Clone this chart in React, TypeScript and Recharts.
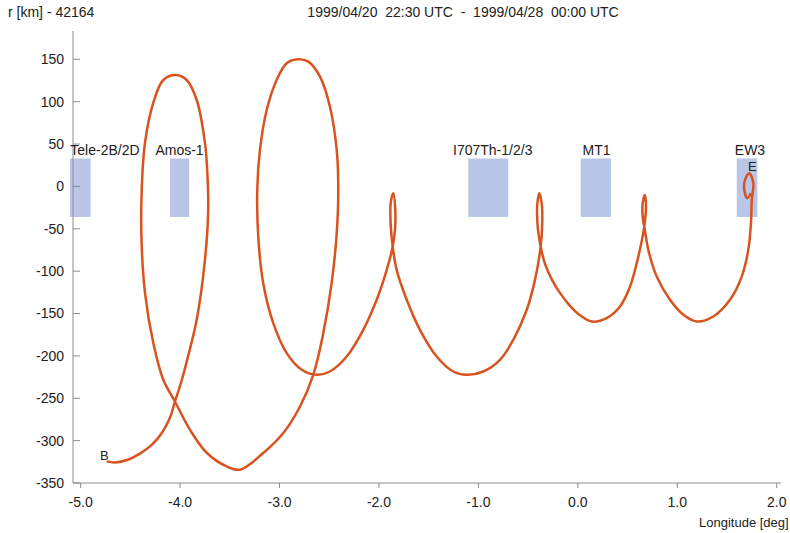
import React from 'react';
import {
  LineChart,
  Line,
  XAxis,
  YAxis,
  ReferenceArea,
  ReferenceDot,
  Label,
} from 'recharts';

// ground track: longitude [deg] vs radius offset r - 42164 [km]
const trackLon = [
  -4.739, -4.655, -4.524, -4.404, -4.283, -4.182, -4.102, -4.052, -3.991, -3.934,
  -3.833, -3.75, -3.717, -3.725, -3.75, -3.833, -3.934, -4.042, -4.169, -4.27,
  -4.353, -4.387, -4.387, -4.353, -4.27, -4.169, -4.052, -3.901, -3.733, -3.532,
  -3.398, -3.164, -2.962, -2.794, -2.661, -2.56, -2.476, -2.425, -2.409, -2.425,
  -2.493, -2.593, -2.711, -2.812, -2.928, -3.029, -3.129, -3.197, -3.224, -3.214,
  -3.164, -3.063, -2.928, -2.777, -2.627, -2.493, -2.325, -2.158, -2.023, -1.922,
  -1.862, -1.839, -1.836, -1.856, -1.882, -1.882, -1.862, -1.822, -1.721, -1.588,
  -1.42, -1.253, -1.118, -0.951, -0.783, -0.649, -0.514, -0.431, -0.374, -0.358,
  -0.364, -0.388, -0.408, -0.404, -0.374, -0.33, -0.26, -0.18, -0.079, 0.022,
  0.139, 0.29, 0.424, 0.525, 0.608, 0.668, 0.685, 0.675, 0.652, 0.655,
  0.668, 0.709, 0.793, 0.927, 1.061, 1.195, 1.362, 1.53, 1.648, 1.714,
  1.741, 1.749, 1.765, 1.724, 1.681, 1.674, 1.704, 1.738,
];

const trackR = [
  -324.5, -325.7, -322.5, -315.4, -304.8, -290.7, -273.0, -254.1, -231.7, -207.0,
  -157.4, -86.7, -27.7, 13.6, 51.3, 102.0, 125.6, 131.5, 125.6, 98.5,
  51.3, -7.7, -66.6, -125.6, -184.6, -228.2, -253.8, -287.1, -314.3, -330.4,
  -334.3, -314.6, -291.0, -259.7, -222.3, -173.1, -114.2, -55.2, -4.1, 43.0,
  94.1, 129.5, 147.2, 150.0, 145.3, 125.6, 90.2, 43.0, -4.1, -59.2,
  -114.2, -161.3, -196.7, -216.4, -222.3, -218.4, -200.7, -169.2, -133.8, -98.5,
  -71.0, -51.3, -27.7, -8.0, -19.5, -45.4, -71.0, -98.5, -133.8, -169.2,
  -200.7, -218.4, -222.3, -218.4, -204.6, -181.0, -145.6, -110.3, -71.0, -43.4,
  -19.8, -8.0, -21.8, -47.4, -71.0, -91.4, -110.3, -125.6, -140.9, -152.1,
  -159.4, -155.4, -141.7, -118.2, -82.8, -47.4, -23.8, -10.0, -19.8, -39.5,
  -47.4, -74.9, -106.4, -133.8, -151.5, -159.4, -153.5, -133.8, -106.4, -74.9,
  -43.4, -15.9, 3.8, 15.6, 7.7, -4.1, -13.9, -8.0,
];

// neighbouring satellites (longitude boxes)
const satNames = ['Tele-2B/2D', 'Amos-1', 'I707Th-1/2/3', 'MT1', 'EW3'];
const satLonStart = [-5.108, -4.102, -1.102, 0.029, 1.598];
const satLonEnd = [-4.899, -3.908, -0.7, 0.333, 1.805];
const satLabelLon = [-4.756, -4.006, -0.856, 0.188, 1.731];
const boxTop = 33;
const boxBottom = -36;

// begin / end markers
const markNames = ['B', 'E'];
const markLon = [-4.761, 1.754];
const markR = [-317.8, 23.3];

const xTicks = [-5, -4, -3, -2, -1, 0, 1, 2];
const yTicks = [-350, -300, -250, -200, -150, -100, -50, 0, 50, 100, 150];

const track = trackLon.map((lon, i) => ({ lon, r: trackR[i] }));

const AXIS = '#8c8c8c';
const TEXT = '#222';
const TRACK = '#d9531e';
const BOX = '#b9c6e7';

// centripetal catmull-rom, so the loops stay smooth without overshoot
const catmullRom = (context: any) => {
  let pts: number[][] = [];
  const len = (a: number[], b: number[]) =>
    Math.sqrt(Math.hypot(b[0] - a[0], b[1] - a[1]));
  return {
    areaStart() {},
    areaEnd() {},
    lineStart() {
      pts = [];
    },
    point(x: number, y: number) {
      pts.push([+x, +y]);
    },
    lineEnd() {
      if (!pts.length) return;
      context.moveTo(pts[0][0], pts[0][1]);
      for (let i = 0; i < pts.length - 1; i++) {
        const p0 = pts[i - 1] || pts[i];
        const p1 = pts[i];
        const p2 = pts[i + 1];
        const p3 = pts[i + 2] || pts[i + 1];
        const l01 = len(p0, p1);
        const l12 = len(p1, p2);
        const l23 = len(p2, p3);
        let c1 = p1;
        let c2 = p2;
        if (l01 > 1e-6) {
          const a = 2 * l01 * l01 + 3 * l01 * l12 + l12 * l12;
          const n = 3 * l01 * (l01 + l12);
          c1 = [0, 1].map(
            (k) => (p1[k] * a - p0[k] * l12 * l12 + p2[k] * l01 * l01) / n
          );
        }
        if (l23 > 1e-6) {
          const b = 2 * l23 * l23 + 3 * l23 * l12 + l12 * l12;
          const m = 3 * l23 * (l23 + l12);
          c2 = [0, 1].map(
            (k) => (p2[k] * b + p1[k] * l23 * l23 - p3[k] * l12 * l12) / m
          );
        }
        context.bezierCurveTo(c1[0], c1[1], c2[0], c2[1], p2[0], p2[1]);
      }
    },
  };
};

export default function App() {
  return (
    <div
      style={{
        position: 'absolute',
        left: 0,
        top: 0,
        width: 790,
        height: 533,
        background: '#fff',
        fontFamily: '"Liberation Sans", Arial, sans-serif',
        fontSize: 14,
        color: TEXT,
      }}
    >
      <div style={{ position: 'absolute', left: 8, top: 4, whiteSpace: 'pre' }}>
        r [km] - 42164
      </div>
      <div
        style={{
          position: 'absolute',
          left: 463,
          top: 4,
          transform: 'translateX(-50%)',
          whiteSpace: 'pre',
        }}
      >
        1999/04/20  22:30 UTC  -  1999/04/28  00:00 UTC
      </div>
      <div
        style={{
          position: 'absolute',
          left: 699,
          top: 515,
          fontSize: 13,
          whiteSpace: 'pre',
        }}
      >
        Longitude [deg]
      </div>
      <LineChart
        width={790}
        height={533}
        data={track}
        margin={{ top: 31, right: 9, bottom: 0, left: 0 }}
      >
        <XAxis
          dataKey="lon"
          type="number"
          domain={[-5.077, 2.043]}
          allowDataOverflow
          ticks={xTicks}
          tickFormatter={(v: number) => v.toFixed(1)}
          height={50}
          tickSize={5}
          tickMargin={9}
          stroke={AXIS}
          tick={{ fill: TEXT, fontSize: 14 }}
        />
        <XAxis
          xAxisId="top"
          orientation="top"
          type="number"
          domain={[-5.077, 2.043]}
          allowDataOverflow
          height={0}
          tick={false}
          tickLine={false}
          stroke="#b0b0b0"
        />
        <YAxis
          type="number"
          domain={[-350, 183.4]}
          allowDataOverflow
          ticks={yTicks}
          width={73}
          tickSize={-7}
          tickMargin={16}
          stroke={AXIS}
          tick={{ fill: TEXT, fontSize: 14 }}
        />
        <YAxis
          yAxisId="right"
          orientation="right"
          type="number"
          domain={[-350, 183.4]}
          allowDataOverflow
          width={0}
          tick={false}
          tickLine={false}
          stroke="#666"
        />
        {satNames.map((name, i) => (
          <ReferenceArea
            key={name}
            x1={satLonStart[i]}
            x2={satLonEnd[i]}
            y1={boxBottom}
            y2={boxTop}
            fill={BOX}
            fillOpacity={1}
            stroke="none"
            ifOverflow="visible"
          />
        ))}
        {satNames.map((name, i) => (
          <ReferenceDot
            key={'l' + name}
            x={satLabelLon[i]}
            y={boxTop}
            r={0}
            fill="none"
            stroke="none"
            ifOverflow="visible"
            label={
              <Label value={name} position="top" offset={3} fontSize={14} fill={TEXT} />
            }
          />
        ))}
        <Line
          dataKey="r"
          type={catmullRom as any}
          stroke={TRACK}
          strokeWidth={2.5}
          dot={false}
          isAnimationActive={false}
        />
        {markNames.map((name, i) => (
          <ReferenceDot
            key={'m' + name}
            x={markLon[i]}
            y={markR[i]}
            r={0}
            fill="none"
            stroke="none"
            ifOverflow="visible"
            label={<Label value={name} position="center" fontSize={13} fill={TEXT} />}
          />
        ))}
      </LineChart>
    </div>
  );
}
